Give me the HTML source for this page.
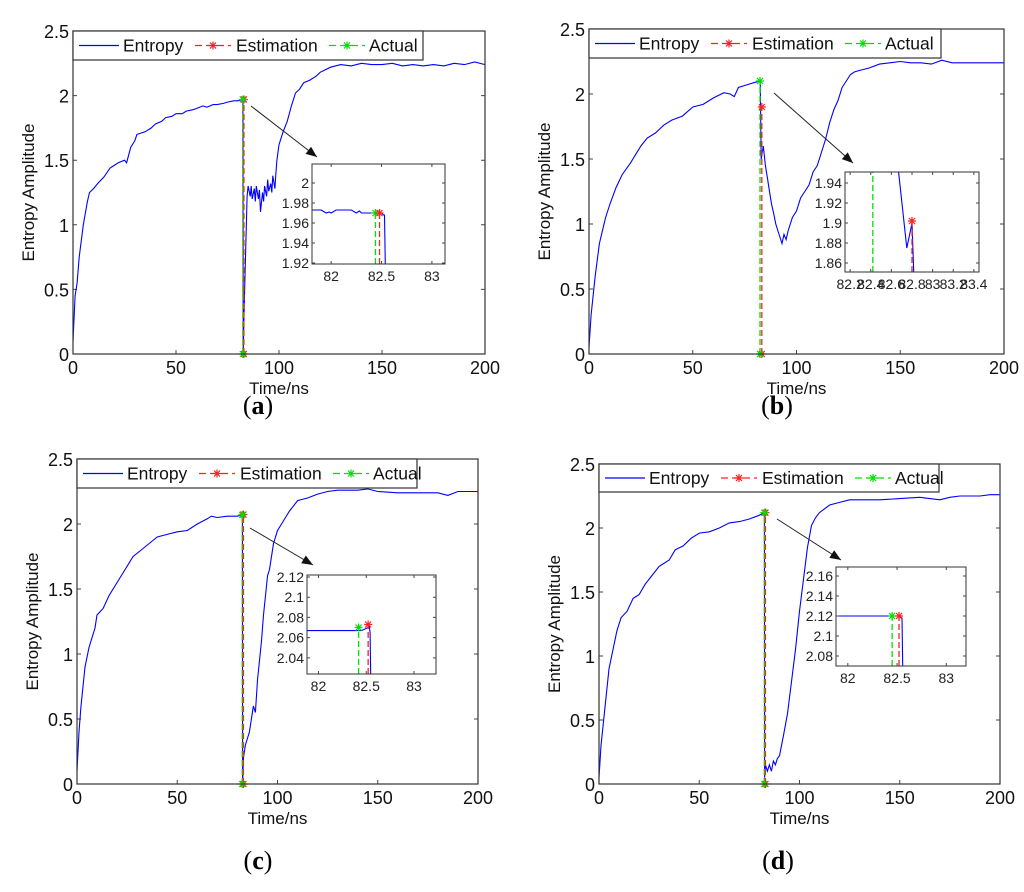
<!DOCTYPE html>
<html><head><meta charset="utf-8">
<style>
html,body{margin:0;padding:0;background:#fff;}
svg{display:block;font-family:"Liberation Sans",Arial,sans-serif;}
</style></head>
<body>
<svg id="fig" width="1024" height="892" viewBox="0 0 1024 892" xmlns="http://www.w3.org/2000/svg"></svg>
<script>
// ---------- data ----------
const xTicks = [0, 50, 100, 150, 200];
const yTicks = [0, 0.5, 1, 1.5, 2, 2.5];
const yTickLabels = ["0", "0.5", "1", "1.5", "2", "2.5"];

const aTime = [0,1,2,3,5,7,8,10,12,15,18,20,22,25,26,28,30,31,33,35,38,40,43,45,48,50,53,55,58,60,63,65,68,70,73,75,78,80,82.4,82.5,82.6,83,84,84.5,85,86,86.5,87,88,88.5,89,90,90.5,91,92,92.5,93,94,94.5,95,96,96.5,97,98,98.5,99,100,102,104,106,108,110,112,115,118,120,125,130,135,140,145,150,155,160,165,170,175,180,185,190,195,200];
const aVal = [0.1,0.45,0.55,0.75,1.0,1.18,1.25,1.28,1.32,1.37,1.44,1.46,1.48,1.5,1.48,1.6,1.65,1.7,1.71,1.72,1.75,1.78,1.8,1.83,1.84,1.86,1.86,1.88,1.89,1.9,1.92,1.91,1.93,1.93,1.94,1.95,1.96,1.96,1.97,1.97,0,0.3,0.9,1.22,1.3,1.22,1.3,1.2,1.28,1.18,1.3,1.2,1.27,1.1,1.25,1.18,1.3,1.22,1.35,1.26,1.32,1.25,1.38,1.28,1.4,1.5,1.62,1.72,1.8,1.92,2.02,2.05,2.1,2.12,2.15,2.18,2.22,2.24,2.23,2.25,2.24,2.24,2.25,2.23,2.24,2.23,2.24,2.23,2.25,2.24,2.26,2.24];

const bTime = [0,1,3,5,8,10,13,16,20,25,28,32,36,40,45,50,55,60,65,68,70,72,76,80,82.5,83,84,85,86,87,88,89,90,91,92,93,94,95,96,97,98,100,102,104,106,108,110,112,114,116,118,120,122,124,126,128,130,135,140,145,150,155,160,165,170,175,180,190,200];
const bVal = [0.05,0.3,0.6,0.85,1.05,1.15,1.28,1.38,1.47,1.6,1.66,1.7,1.76,1.8,1.83,1.9,1.92,1.97,2.01,2.0,1.98,2.05,2.07,2.09,2.1,1.5,1.6,1.45,1.35,1.25,1.15,1.08,1.0,0.95,0.9,0.85,0.92,0.88,0.95,1.0,1.05,1.1,1.2,1.25,1.3,1.4,1.45,1.55,1.65,1.78,1.88,1.95,2.05,2.1,2.15,2.17,2.18,2.2,2.23,2.24,2.25,2.24,2.24,2.23,2.26,2.24,2.24,2.24,2.24];

const cTime = [0,1,2,4,6,9,10,13,16,20,24,28,32,36,40,45,50,55,60,65,67,70,75,80,82.5,82.6,83,84,86,88,89,90,91,92,93,94,95,96,97,98,100,102,104,106,110,115,120,125,130,140,145,150,160,170,180,185,190,200];
const cVal = [0.1,0.4,0.6,0.9,1.05,1.2,1.3,1.35,1.45,1.55,1.65,1.75,1.8,1.85,1.9,1.92,1.94,1.95,2.0,2.04,2.06,2.05,2.06,2.06,2.07,0,0.2,0.3,0.4,0.6,0.55,0.8,0.95,1.1,1.3,1.45,1.6,1.65,1.75,1.85,1.95,2.0,2.05,2.1,2.18,2.2,2.23,2.25,2.26,2.26,2.27,2.25,2.24,2.24,2.24,2.22,2.25,2.25];

const dTime = [0,1,3,5,7,9,11,14,17,20,23,26,30,35,38,42,46,50,55,60,65,70,75,80,82.5,82.6,83,84,85,86,87,88,89,90,91,92,94,96,98,100,102,104,106,108,110,115,120,125,130,140,150,160,170,175,180,190,195,200];
const dVal = [0.05,0.3,0.6,0.9,1.05,1.2,1.3,1.35,1.45,1.48,1.56,1.62,1.7,1.75,1.83,1.86,1.92,1.96,1.97,2.0,2.04,2.05,2.07,2.1,2.12,0.05,0.15,0.1,0.15,0.1,0.18,0.15,0.2,0.22,0.3,0.38,0.55,0.8,1.05,1.35,1.6,1.85,2.02,2.08,2.12,2.18,2.2,2.22,2.22,2.22,2.23,2.24,2.22,2.24,2.25,2.25,2.26,2.26];

// estimation / actual (time, top value)
const estX = [82.48, 82.8, 82.52, 82.52];
const estY = [1.97, 1.9, 2.073, 2.12];
const actX = [82.44, 82.42, 82.42, 82.45];
const actY = [1.97, 2.1, 2.07, 2.12];

// inset data
const aInT = [81.8,81.9,81.95,81.98,82.0,82.05,82.1,82.15,82.2,82.25,82.28,82.3,82.35,82.4,82.45,82.5,82.52,82.53,82.54];
const aInV = [1.973,1.973,1.97,1.971,1.97,1.973,1.973,1.973,1.973,1.97,1.972,1.97,1.97,1.97,1.97,1.97,1.968,1.968,1.9];
const bInT = [82.66,82.75,82.79,82.8,82.82];
const bInV = [1.96,1.875,1.895,1.9,1.84];
const cInT = [81.8,82.0,82.3,82.45,82.52,82.53,82.54,82.55];
const cInV = [2.067,2.067,2.067,2.067,2.07,2.072,2.065,2.0];
const dInT = [81.8,82.0,82.3,82.52,82.55,82.56];
const dInV = [2.12,2.12,2.12,2.12,2.118,2.05];

const aInXT=[82,82.5,83], aInYT=[1.92,1.94,1.96,1.98,2], aInYL=["1.92","1.94","1.96","1.98","2"];
const bInXT=[82.2,82.4,82.6,82.8,83,83.2,83.4], bInXL=["82.2","82.4","82.6","82.8","83","83.2","83.4"], bInYT=[1.86,1.88,1.9,1.92,1.94], bInYL=["1.86","1.88","1.9","1.92","1.94"];
const cInYT=[2.04,2.06,2.08,2.1,2.12], cInYL=["2.04","2.06","2.08","2.1","2.12"];
const dInYT=[2.08,2.1,2.12,2.14,2.16], dInYL=["2.08","2.1","2.12","2.14","2.16"];

// ---------- drawing ----------
const NS="http://www.w3.org/2000/svg";
const svg=document.getElementById('fig');
function mk(tag,attrs,parent){const e=document.createElementNS(NS,tag);for(const k in attrs)e.setAttribute(k,attrs[k]);(parent||svg).appendChild(e);return e;}
function txt(s,x,y,attrs,parent){const t=mk('text',Object.assign({x:x,y:y},attrs),parent);t.textContent=s;return t;}
function star(g,x,y,col){
  mk('path',{d:`M${x-4},${y}H${x+4}M${x},${y-4}V${y+4}M${x-3},${y-3}L${x+3},${y+3}M${x-3},${y+3}L${x+3},${y-3}`,stroke:col,'stroke-width':1.2},g);
}

const panels=[
 {id:'a',x0:73,x1:485,yt:31,yb:354,leg:423,legB:60,t:aTime,v:aVal,ins:{l:312,t:164,r:445,b:264,xmin:81.81,xmax:83.13,ymin:1.919,ymax:2.019,xt:aInXT,xl:["82","82.5","83"],yt:aInYT,yl:aInYL,T:aInT,V:aInV,eY:1.97,aY:1.97},arrow:[251,106,317,157],cap:[258,414]},
 {id:'b',x0:589,x1:1004,yt:29,yb:354,leg:941,legB:58,t:bTime,v:bVal,ins:{l:845,t:172,r:979,b:272,xmin:82.15,xmax:83.45,ymin:1.851,ymax:1.951,xt:bInXT,xl:bInXL,yt:bInYT,yl:bInYL,T:bInT,V:bInV,eY:1.902,aY:null},arrow:[774,93,853,163],cap:[777,414]},
 {id:'c',x0:77,x1:478,yt:459,yb:784,leg:417,legB:488,t:cTime,v:cVal,ins:{l:307,t:575,r:436,b:674,xmin:81.88,xmax:83.23,ymin:2.024,ymax:2.122,xt:aInXT,xl:["82","82.5","83"],yt:cInYT,yl:cInYL,T:cInT,V:cInV,eY:2.073,aY:2.07},arrow:[250,528,313,565],cap:[258,869]},
 {id:'d',x0:599,x1:1000,yt:464,yb:784,leg:939,legB:492,t:dTime,v:dVal,ins:{l:836,t:567,r:966,b:666,xmin:81.88,xmax:83.2,ymin:2.07,ymax:2.169,xt:aInXT,xl:["82","82.5","83"],yt:dInYT,yl:dInYL,T:dInT,V:dInV,eY:2.12,aY:2.12},arrow:[777,519,841,560],cap:[778,869]}
];

panels.forEach((p,i)=>{
  const g=mk('g',{});
  
  
  const X=t=>p.x0+(t-0)/200*(p.x1-p.x0);
  const Y=v=>p.yb-v/2.5*(p.yb-p.yt);
  xTicks.forEach(t=>{
    mk('path',{d:`M${X(t)},${p.yb}v-4M${X(t)},${p.yt}v4`,stroke:'#444','stroke-width':1},g);
    const l=txt(String(t),X(t),p.yb+20,{'font-size':18,'text-anchor':'middle',fill:'#111'},g);
    
    
  });
  yTicks.forEach((v,k)=>{
    mk('path',{d:`M${p.x0},${Y(v)}h4M${p.x1},${Y(v)}h-4`,stroke:'#444','stroke-width':1},g);
    const l=txt(yTickLabels[k],p.x0-4,Y(v)+7,{'font-size':18,'text-anchor':'end',fill:'#111'},g);
    
    
  });
  const xt=txt('Time/ns',(p.x0+p.x1)/2,p.yb+40,{'font-size':17,'text-anchor':'middle',fill:'#111'},g);
  
  
  const yl=txt('Entropy Amplitude',0,0,{'font-size':17,'text-anchor':'middle',fill:'#111',transform:`translate(${p.x0-39},${(p.yt+p.yb)/2}) rotate(-90)`},g);
  
  
  const d=p.t.map((t,k)=>(k?'L':'M')+X(t).toFixed(1)+','+Y(p.v[k]).toFixed(1)).join('');
  const ln=mk('path',{d:d,fill:'none',stroke:'#0000ff','stroke-width':1.1},g);
  
  
  const ax=X(actX[i]), ex=X(estX[i]);
  const al=mk('path',{d:`M${ax},${p.yb}V${Y(actY[i])}`,stroke:'#00e000','stroke-width':1.3,'stroke-dasharray':'6,3'},g);
  
  
  const el=mk('path',{d:`M${ex+1},${p.yb}V${Y(estY[i])}`,stroke:'#ff2020','stroke-width':1.3,'stroke-dasharray':'6,3'},g);
  
  
  star(g,ex+1,Y(estY[i]),'#ff2020'); star(g,ex+1,p.yb,'#ff2020');
  star(g,ax,Y(actY[i]),'#00e000'); star(g,ax,p.yb,'#00e000');
  mk('rect',{x:p.x0,y:p.yt,width:p.x1-p.x0,height:p.yb-p.yt,fill:'none',stroke:'#333','stroke-width':1.2},g);
  const lg=mk('g',{},g);
  
  
  mk('rect',{x:p.x0,y:p.yt,width:p.leg-p.x0,height:p.legB-p.yt,fill:'#fff',stroke:'#333','stroke-width':1.2},lg);
  const ly=(p.yt+p.legB)/2, L=p.x0;
  mk('path',{d:`M${L+6},${ly}h40`,stroke:'#0000ff','stroke-width':1.2},lg);
  txt('Entropy',L+50,ly+6,{'font-size':17.5,fill:'#111'},lg);
  mk('path',{d:`M${L+122},${ly}h36`,stroke:'#ff2020','stroke-width':1.3,'stroke-dasharray':'7,4'},lg);
  star(lg,L+140,ly,'#ff2020');
  txt('Estimation',L+163,ly+6,{'font-size':17.5,fill:'#111'},lg);
  mk('path',{d:`M${L+256},${ly}h36`,stroke:'#00e000','stroke-width':1.3,'stroke-dasharray':'7,4'},lg);
  star(lg,L+274,ly,'#00e000');
  txt('Actual',L+296,ly+6,{'font-size':17.5,fill:'#111'},lg);
  const [x1,y1,x2,y2]=p.arrow;
  const ang=Math.atan2(y2-y1,x2-x1);
  const ar=mk('g',{},g);
  
  
  mk('path',{d:`M${x1},${y1}L${x2},${y2}`,stroke:'#222','stroke-width':1},ar);
  const h=11,w=4.5;
  const bx=x2-h*Math.cos(ang), by=y2-h*Math.sin(ang);
  mk('path',{d:`M${x2},${y2}L${bx-w*Math.sin(ang)},${by+w*Math.cos(ang)}L${bx+w*Math.sin(ang)},${by-w*Math.cos(ang)}Z`,fill:'#111'},ar);
  const s=p.ins;
  const ig=mk('g',{},g);
  
  
  const IX=t=>s.l+(t-s.xmin)/(s.xmax-s.xmin)*(s.r-s.l);
  const IY=v=>s.b-(v-s.ymin)/(s.ymax-s.ymin)*(s.b-s.t);
  mk('rect',{x:s.l,y:s.t,width:s.r-s.l,height:s.b-s.t,fill:'#fff'},ig);
  const cp=mk('clipPath',{id:'clip'+p.id},ig);
  mk('rect',{x:s.l,y:s.t,width:s.r-s.l,height:s.b-s.t},cp);
  const cg=mk('g',{'clip-path':`url(#clip${p.id})`},ig);
  const idd=s.T.map((t,k)=>(k?'L':'M')+IX(t).toFixed(1)+','+IY(s.V[k]).toFixed(1)).join('');
  mk('path',{d:idd,fill:'none',stroke:'#0000ff','stroke-width':1.1},cg);
  const iax=IX(actX[i]), iex=IX(estX[i]);
  mk('path',{d:`M${iax},${s.b}V${s.aY==null?s.t:IY(s.aY)}`,stroke:'#00e000','stroke-width':1.3,'stroke-dasharray':'6,3'},cg);
  mk('path',{d:`M${iex},${s.b}V${IY(s.eY)}`,stroke:'#ff2020','stroke-width':1.3,'stroke-dasharray':'6,3'},cg);
  if(s.aY!=null) star(cg,iax,IY(s.aY),'#00e000');
  star(cg,iex,IY(s.eY),'#ff2020');
  mk('rect',{x:s.l,y:s.t,width:s.r-s.l,height:s.b-s.t,fill:'none',stroke:'#333','stroke-width':1},ig);
  s.xt.forEach((t,k)=>{
    mk('path',{d:`M${IX(t)},${s.b}v-3M${IX(t)},${s.t}v3`,stroke:'#444'},ig);
    txt(s.xl[k],IX(t),s.b+17,{'font-size':14,'text-anchor':'middle',fill:'#222'},ig);
  });
  s.yt.forEach((v,k)=>{
    mk('path',{d:`M${s.l},${IY(v)}h3M${s.r},${IY(v)}h-3`,stroke:'#444'},ig);
    txt(s.yl[k],s.l-3,IY(v)+5,{'font-size':14,'text-anchor':'end',fill:'#222'},ig);
  });
  const cap=mk('text',{x:p.cap[0],y:p.cap[1],'font-size':26,'text-anchor':'middle','font-family':'"Liberation Serif",serif',fill:'#000'},g);
  
  
  cap.innerHTML='(<tspan font-weight="bold">'+p.id+'</tspan>)';
});
</script>
</body></html>
